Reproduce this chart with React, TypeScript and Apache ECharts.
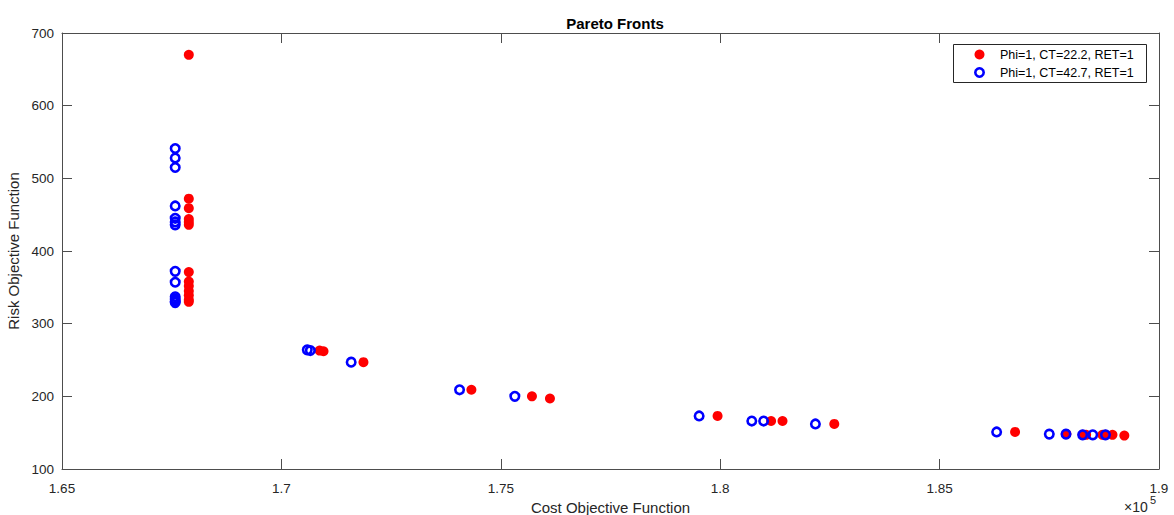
import React, { useEffect, useRef } from "react";
import * as echarts from "echarts";

// Series 1: Phi=1, CT=22.2, RET=1 (red filled)
const redCost = [
  167890, 167890, 167890, 167890, 167890, 167890,
  167890, 167890, 167890, 167890, 167890, 167890, 167890,
  170870, 170960, 171870, 174330, 175710, 176120,
  179940, 181160, 181420, 182600,
  186720, 187890, 188260, 188340, 188710, 188780, 188940, 189210,
];
const redRisk = [
  670, 472, 459, 444, 440, 436,
  371, 358, 352, 345, 339, 333, 330,
  263, 262, 247, 209, 200, 197,
  173, 166, 166, 162,
  151, 148, 147, 147, 147, 147, 147, 146,
];

// Series 2: Phi=1, CT=42.7, RET=1 (blue rings)
const blueCost = [
  167580, 167580, 167580,
  167580, 167580, 167580, 167580,
  167580, 167580, 167580, 167580, 167580, 167580,
  170590, 170660, 171590, 174060, 175320,
  179520, 180720, 180990, 182170,
  186300, 187500, 187880, 188260, 188490, 188780,
];
const blueRisk = [
  541, 528, 515,
  462, 445, 440, 436,
  372, 357, 337, 334, 331, 329,
  264, 263, 247, 209, 200,
  173, 166, 166, 162,
  151, 148, 148, 147, 147, 147,
];

const seriesNames = ["Phi=1, CT=22.2, RET=1", "Phi=1, CT=42.7, RET=1"];
const titleText = "Pareto Fronts";
const xName = "Cost Objective Function";
const yName = "Risk Objective Function";

const FONT = '"Liberation Sans", Arial, Helvetica, sans-serif';
const TXT = "#262626";
const AX = "#4d4d4d";

export default function App() {
  const ref = useRef<HTMLDivElement>(null);
  useEffect(() => {
    document.body.style.margin = "0";
    const chart = echarts.init(ref.current!, undefined, { renderer: "svg" });
    const zip = (a: number[], b: number[]) => a.map((v, i) => [v, b[i]]);
    const xCommon = {
      type: "value" as const,
      min: 165000,
      max: 190000,
      interval: 5000,
      splitLine: { show: false },
      axisLine: { show: true, onZero: false, lineStyle: { color: AX, width: 1 } },
      axisTick: { show: true, inside: true, length: 10, lineStyle: { color: AX } },
    };
    const yCommon = {
      type: "value" as const,
      min: 100,
      max: 700,
      interval: 100,
      splitLine: { show: false },
      axisLine: { show: true, onZero: false, lineStyle: { color: AX, width: 1 } },
      axisTick: { show: true, inside: true, length: 10, lineStyle: { color: AX } },
    };
    chart.setOption({
      animation: false,
      backgroundColor: "#ffffff",
      textStyle: { fontFamily: FONT },
      title: {
        text: titleText,
        left: 610,
        textAlign: "center",
        top: 11,
        textStyle: { fontSize: 15, fontWeight: "bold", color: "#000", fontFamily: FONT },
      },
      grid: {
        left: 62,
        right: 15,
        top: 33,
        bottom: 46,
        containLabel: false,
        outerBoundsMode: "none",
      },
      xAxis: [
        {
          ...xCommon,
          position: "bottom",
          name: xName,
          nameLocation: "middle",
          nameGap: 30,
          nameTextStyle: { fontSize: 15, color: TXT, fontFamily: FONT },
          axisLabel: {
            show: true,
            margin: 12,
            fontSize: 13.5,
            color: TXT,
            fontFamily: FONT,
            formatter: (v: number) => String(+(v / 1e5).toFixed(2)),
          },
        },
        { ...xCommon, position: "top", axisLabel: { show: false } },
      ],
      yAxis: [
        {
          ...yCommon,
          position: "left",
          name: yName,
          nameLocation: "middle",
          nameGap: 40,
          nameTextStyle: { fontSize: 15, color: TXT, fontFamily: FONT },
          axisLabel: { show: true, margin: 8, fontSize: 13.5, color: TXT, fontFamily: FONT },
        },
        { ...yCommon, position: "right", axisLabel: { show: false } },
      ],
      series: [
        {
          name: seriesNames[0],
          type: "scatter",
          xAxisIndex: 0,
          yAxisIndex: 0,
          symbol: "circle",
          symbolSize: 10,
          itemStyle: { color: "#ff0000", opacity: 1 },
          data: zip(redCost, redRisk),
        },
        {
          name: seriesNames[1],
          type: "scatter",
          xAxisIndex: 0,
          yAxisIndex: 0,
          symbol: "circle",
          symbolSize: 8.5,
          itemStyle: { color: "rgba(0,0,0,0)", borderColor: "#0000ff", borderWidth: 2.6, opacity: 1 },
          data: zip(blueCost, blueRisk),
        },
      ],
      graphic: [
        {
          type: "rect",
          shape: { x: 953.5, y: 44.5, width: 193, height: 38 },
          style: { fill: "#fff", stroke: "#262626", lineWidth: 1 },
          z: 100,
        },
        {
          type: "circle",
          shape: { cx: 979.5, cy: 54.5, r: 5 },
          style: { fill: "#ff0000" },
          z: 101,
        },
        {
          type: "circle",
          shape: { cx: 979.5, cy: 72.5, r: 4.2 },
          style: { fill: "none", stroke: "#0000ff", lineWidth: 2.6 },
          z: 101,
        },
        {
          type: "text",
          x: 1000,
          y: 54.5,
          style: { text: seriesNames[0], font: `12.5px ${FONT}`, fill: "#000", verticalAlign: "middle" },
          z: 101,
        },
        {
          type: "text",
          x: 1000,
          y: 72.5,
          style: { text: seriesNames[1], font: `12.5px ${FONT}`, fill: "#000", verticalAlign: "middle" },
          z: 101,
        },
        {
          type: "text",
          x: 1124,
          y: 507,
          style: { text: "×10", font: `14px ${FONT}`, fill: TXT, verticalAlign: "middle" },
          z: 101,
        },
        {
          type: "text",
          x: 1150,
          y: 500,
          style: { text: "5", font: `11px ${FONT}`, fill: TXT, verticalAlign: "middle" },
          z: 101,
        },
      ],
    });
    return () => chart.dispose();
  }, []);
  return <div ref={ref} style={{ width: 1174, height: 515 }} />;
}
